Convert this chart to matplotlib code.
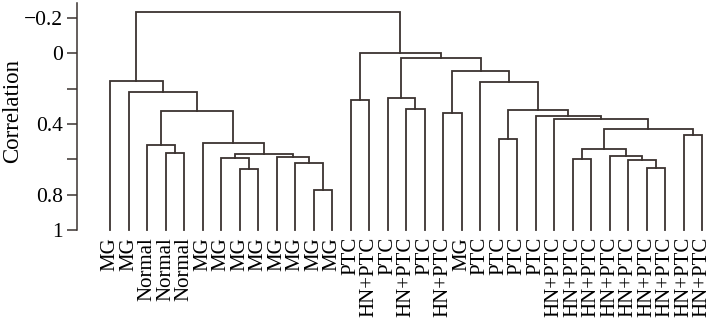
import matplotlib
matplotlib.use("Agg")
import matplotlib.pyplot as plt
import numpy as np

# leaf labels, left to right
labels = ["MG", "MG", "Normal", "Normal", "Normal",
          "MG", "MG", "MG", "MG", "MG", "MG", "MG", "MG",
          "PTC", "HN+PTC", "PTC", "HN+PTC", "PTC", "HN+PTC", "MG",
          "PTC", "PTC", "PTC", "PTC",
          "HN+PTC", "HN+PTC", "HN+PTC", "HN+PTC", "HN+PTC",
          "HN+PTC", "HN+PTC", "HN+PTC", "HN+PTC"]

# merges (scipy style): new node id = n_leaves + row index
merge_left = [11, 10, 9, 7, 6, 37, 5, 3, 2, 41, 1, 0,
              13, 16, 15, 18, 21, 31, 29, 28, 27, 25, 54, 55, 24, 23, 49, 20, 48, 47, 45,
              44]
merge_right = [12, 33, 34, 8, 36, 35, 38, 4, 40, 39, 42, 43,
               14, 17, 46, 19, 22, 32, 30, 51, 52, 26, 53, 50, 56, 57, 58, 59, 60, 61, 62,
               63]
merge_height = [0.774, 0.619, 0.589, 0.656, 0.594, 0.570, 0.509, 0.566, 0.519, 0.325, 0.221, 0.157,
                0.264, 0.317, 0.255, 0.336, 0.485, 0.461, 0.651, 0.606, 0.581, 0.600, 0.542,
                0.430, 0.374, 0.353, 0.321, 0.164, 0.100, 0.025, -0.003,
                -0.234]

col = "#3b3330"
n = len(labels)
xpos = {i: float(i) for i in range(n)}
ypos = {i: 1.0 for i in range(n)}

fig = plt.figure(figsize=(7.2, 3.31), dpi=100)
ax = fig.add_axes([77 / 720, 101 / 331, 638 / 720, 227 / 331])

for k, (a, b, h) in enumerate(zip(merge_left, merge_right, merge_height)):
    xa, xb = xpos[a], xpos[b]
    ax.plot([xa, xa, xb, xb], [ypos[a], h, h, ypos[b]], color=col, lw=1.3,
            solid_joinstyle="miter", clip_on=False)
    xpos[n + k] = (xa + xb) / 2
    ypos[n + k] = h

ax.set_xlim(-1.784, 32.70)
ax.set_ylim(1.0, -0.285)

ax.set_yticks([-0.2, 0, 0.2, 0.4, 0.6, 0.8, 1])
ax.set_yticklabels(["\u22120.2", "0", "", "0.4", "", "0.8", "1"],
                   fontfamily="Liberation Serif", fontsize=15.5)
ax.tick_params(axis="y", length=7, width=1.1, color=col, pad=3)
ax.set_ylabel("Correlation", fontfamily="Liberation Serif", fontsize=16.5)
ax.yaxis.set_label_coords(-0.084, 0.524)

ax.set_xticks(np.arange(n))
ax.set_xticklabels(labels, rotation=90, fontfamily="Liberation Serif", fontsize=15)
ax.tick_params(axis="x", length=0, pad=5)

for s in ["top", "right", "bottom"]:
    ax.spines[s].set_visible(False)
ax.spines["left"].set_color(col)
ax.spines["left"].set_linewidth(1.1)

fig.savefig("out.png", dpi=100)
